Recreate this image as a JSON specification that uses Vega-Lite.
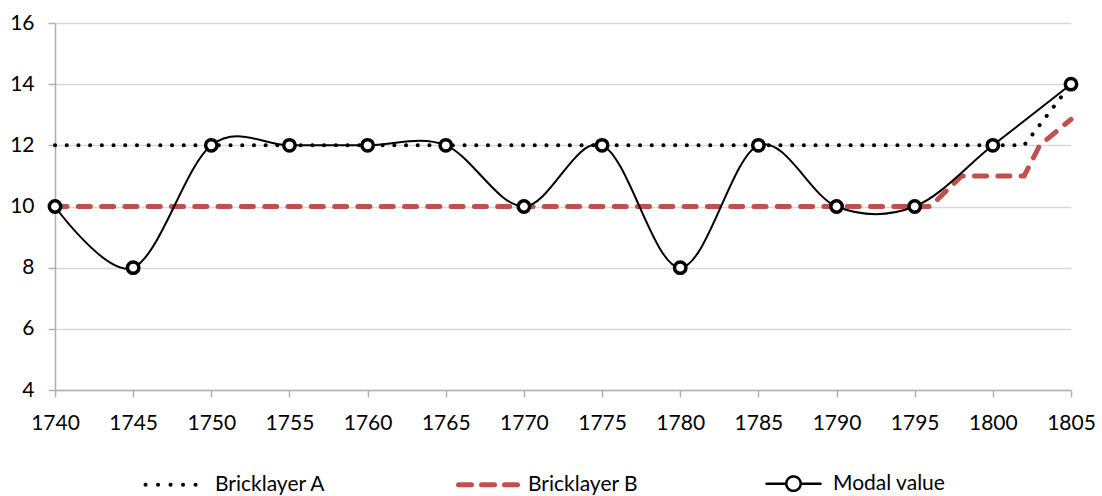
{
  "$schema": "https://vega.github.io/schema/vega-lite/v6.json",
  "width": 1016,
  "height": 367,
  "autosize": {"type": "none"},
  "padding": {"left": 55, "top": 23, "right": 31, "bottom": 106},
  "background": "white",
  "config": {
    "view": {"stroke": null},
    "font": "Lato",
    "axis": {
      "domainColor": "#b0b0b0",
      "tickColor": "#b0b0b0",
      "gridColor": "#d9d9d9",
      "domainWidth": 1.5,
      "tickWidth": 1.5,
      "gridWidth": 1.5,
      "tickSize": 7,
      "labelFont": "Lato",
      "labelFontSize": 21,
      "labelColor": "#000000",
      "title": null
    }
  },
  "data": {
    "values": [
      {"year": 1740, "series": "Bricklayer A", "value": 12},
      {"year": 1745, "series": "Bricklayer A", "value": 12},
      {"year": 1750, "series": "Bricklayer A", "value": 12},
      {"year": 1755, "series": "Bricklayer A", "value": 12},
      {"year": 1760, "series": "Bricklayer A", "value": 12},
      {"year": 1765, "series": "Bricklayer A", "value": 12},
      {"year": 1770, "series": "Bricklayer A", "value": 12},
      {"year": 1775, "series": "Bricklayer A", "value": 12},
      {"year": 1780, "series": "Bricklayer A", "value": 12},
      {"year": 1785, "series": "Bricklayer A", "value": 12},
      {"year": 1790, "series": "Bricklayer A", "value": 12},
      {"year": 1795, "series": "Bricklayer A", "value": 12},
      {"year": 1800, "series": "Bricklayer A", "value": 12},
      {"year": 1802, "series": "Bricklayer A", "value": 12},
      {"year": 1805, "series": "Bricklayer A", "value": 14},
      {"year": 1740, "series": "Bricklayer B", "value": 10},
      {"year": 1745, "series": "Bricklayer B", "value": 10},
      {"year": 1750, "series": "Bricklayer B", "value": 10},
      {"year": 1755, "series": "Bricklayer B", "value": 10},
      {"year": 1760, "series": "Bricklayer B", "value": 10},
      {"year": 1765, "series": "Bricklayer B", "value": 10},
      {"year": 1770, "series": "Bricklayer B", "value": 10},
      {"year": 1775, "series": "Bricklayer B", "value": 10},
      {"year": 1780, "series": "Bricklayer B", "value": 10},
      {"year": 1785, "series": "Bricklayer B", "value": 10},
      {"year": 1790, "series": "Bricklayer B", "value": 10},
      {"year": 1795, "series": "Bricklayer B", "value": 10},
      {"year": 1796, "series": "Bricklayer B", "value": 10},
      {"year": 1798, "series": "Bricklayer B", "value": 11},
      {"year": 1800, "series": "Bricklayer B", "value": 11},
      {"year": 1802, "series": "Bricklayer B", "value": 11},
      {"year": 1803, "series": "Bricklayer B", "value": 12},
      {"year": 1805, "series": "Bricklayer B", "value": 12.85},
      {"year": 1740, "series": "Modal value", "value": 10},
      {"year": 1745, "series": "Modal value", "value": 8},
      {"year": 1750, "series": "Modal value", "value": 12},
      {"year": 1755, "series": "Modal value", "value": 12},
      {"year": 1760, "series": "Modal value", "value": 12},
      {"year": 1765, "series": "Modal value", "value": 12},
      {"year": 1770, "series": "Modal value", "value": 10},
      {"year": 1775, "series": "Modal value", "value": 12},
      {"year": 1780, "series": "Modal value", "value": 8},
      {"year": 1785, "series": "Modal value", "value": 12},
      {"year": 1790, "series": "Modal value", "value": 10},
      {"year": 1795, "series": "Modal value", "value": 10},
      {"year": 1800, "series": "Modal value", "value": 12},
      {"year": 1805, "series": "Modal value", "value": 14}
    ]
  },
  "encoding": {
    "x": {
      "field": "year",
      "type": "quantitative",
      "scale": {"domain": [1740, 1805], "nice": false, "zero": false},
      "axis": {
        "values": [1740, 1745, 1750, 1755, 1760, 1765, 1770, 1775, 1780, 1785, 1790, 1795, 1800, 1805],
        "format": "d",
        "grid": false,
        "labelPadding": 15,
        "labelFlush": false,
        "labelOverlap": false
      }
    },
    "y": {
      "field": "value",
      "type": "quantitative",
      "scale": {"domain": [4, 16], "nice": false, "zero": false},
      "axis": {
        "values": [4, 6, 8, 10, 12, 14, 16],
        "grid": true,
        "labelPadding": 14
      }
    }
  },
  "layer": [
    {
      "transform": [{"filter": "datum.series === 'Bricklayer A'"}],
      "mark": {"type": "line", "strokeWidth": 4, "strokeCap": "round", "strokeDash": [0.1, 11.6]},
      "encoding": {
        "color": {
          "field": "series",
          "type": "nominal",
          "scale": {"domain": ["Bricklayer A", "Bricklayer B", "Modal value"], "range": ["#000000", "#C0504D", "#000000"]},
          "legend": {
            "orient": "none",
            "legendX": 110,
            "legendY": 450,
            "direction": "horizontal",
            "title": null,
            "padding": 0,
            "symbolType": "stroke",
            "symbolSize": 3600,
            "labelFont": "Lato",
            "labelFontSize": 21,
            "labelColor": "#000000",
            "labelOffset": 29,
            "columnPadding": 122,
            "labelLimit": 300,
            "encode": {
              "symbols": {
                "update": {
                  "shape": {"signal": "datum.value === 'Modal value' ? 'M-0.9,0L-0.24,0M0.24,0L0.9,0M-0.24,0A0.24,0.24,0,1,1,0.24,0A0.24,0.24,0,1,1,-0.24,0' : 'stroke'"},
                  "strokeWidth": {"signal": "datum.value === 'Bricklayer A' ? 4 : datum.value === 'Bricklayer B' ? 5 : 2.5"},
                  "strokeDash": {"signal": "datum.value === 'Bricklayer A' ? [0.1, 12.4] : datum.value === 'Bricklayer B' ? [13, 10] : [1, 0]"},
                  "strokeCap": {"value": "round"},
                  "fill": {"signal": "datum.value === 'Modal value' ? 'white' : 'transparent'"},
                  "opacity": {"value": 1}
                }
              }
            }
          }
        }
      }
    },
    {
      "transform": [{"filter": "datum.series === 'Bricklayer B'"}],
      "mark": {"type": "line", "strokeWidth": 5, "strokeCap": "round", "strokeDash": [12, 11.3]},
      "encoding": {
        "color": {"field": "series", "type": "nominal"}
      }
    },
    {
      "transform": [{"filter": "datum.series === 'Modal value'"}],
      "mark": {"type": "line", "strokeWidth": 2, "interpolate": "cardinal", "tension": 0},
      "encoding": {
        "color": {"field": "series", "type": "nominal"}
      }
    },
    {
      "transform": [{"filter": "datum.series === 'Modal value'"}],
      "mark": {"type": "point", "shape": "circle", "size": 130, "filled": true, "fill": "white", "stroke": "black", "strokeWidth": 3.5, "opacity": 1}
    }
  ]
}
